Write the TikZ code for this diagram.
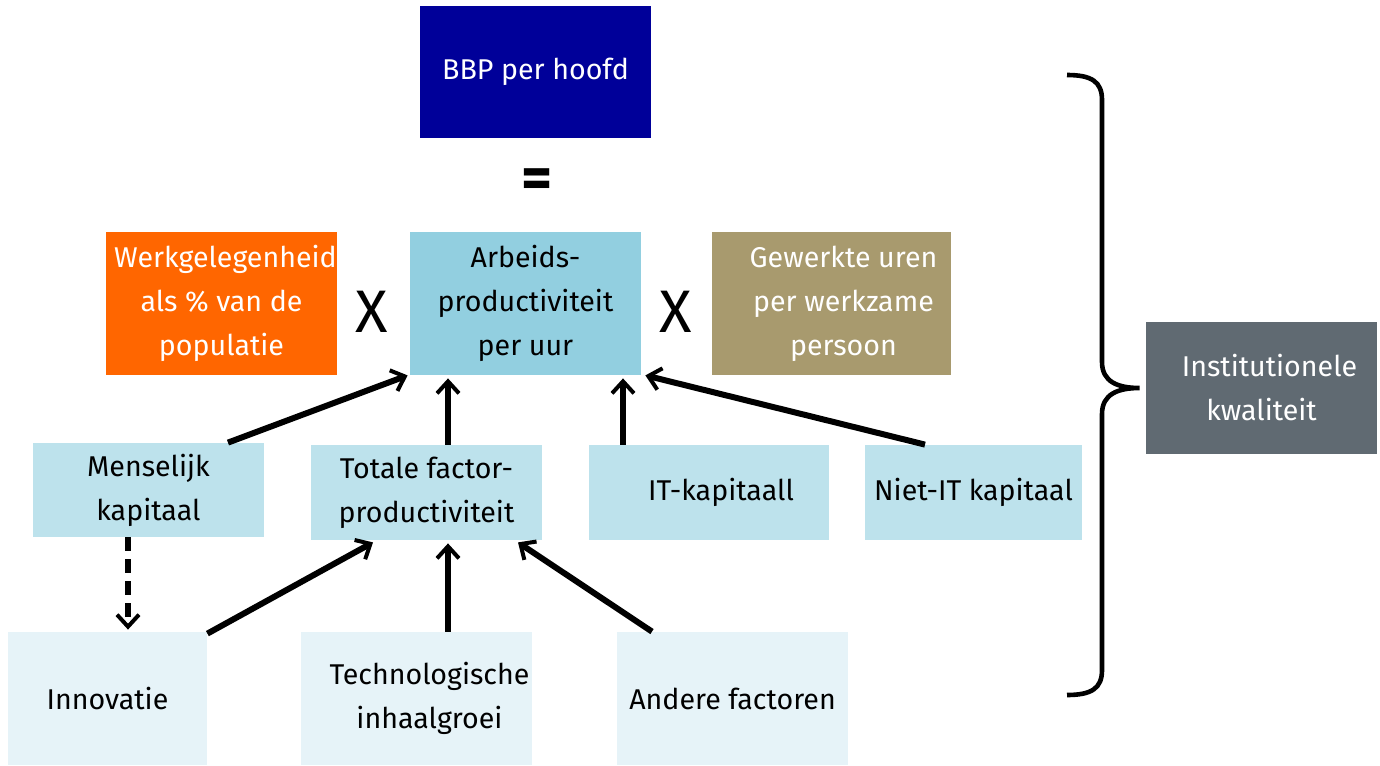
\documentclass[tikz,border=0pt]{standalone}
\usepackage{fontspec}
\setmainfont{Fira Sans}
\usetikzlibrary{arrows.meta,calc}
\definecolor{bbp}{RGB}{0,0,153}
\definecolor{werk}{RGB}{255,102,0}
\definecolor{arb}{RGB}{146,207,224}
\definecolor{gew}{RGB}{168,154,110}
\definecolor{mid}{RGB}{189,226,236}
\definecolor{low}{RGB}{230,243,248}
\definecolor{inst}{RGB}{96,106,114}
\begin{document}
\begin{tikzpicture}[x=0.5pt,y=-0.5pt,
  box/.style={inner sep=0pt,align=center,font=\fontsize{14.3}{22}\selectfont},
  arr/.style={line width=3pt,-{Straight Barb[length=6pt,width=11pt,line width=2pt]}},
  op/.style={font=\fontsize{30}{30}\selectfont}]
\useasboundingbox (0,0) rectangle (1380,765);
\node[box,fill=bbp,text=white,minimum width=115.5pt,minimum height=66pt] (bbp) at (535.5,72) {BBP per hoofd};
\node[op] (eq) at (537,184) {\textbf{=}};
\node[box,fill=werk,text=white,minimum width=115.5pt,minimum height=71.5pt] (werk) at (221.5,303.5) {\hspace{4pt}Werkgelegenheid\\als \% van de\\populatie};
\node[op] (x1) at (372,312) {X};
\node[box,fill=arb,minimum width=115.5pt,minimum height=71.5pt] (ap) at (525.5,303.5) {Arbeids-\\productiviteit\\per uur\hspace{30pt}};
\node[op] (x2) at (676,312) {X};
\node[box,fill=gew,text=white,minimum width=119.5pt,minimum height=71.5pt] (gew) at (831.5,303.5) {\hspace{12pt}Gewerkte uren\\\hspace{12pt}per werkzame\\\hspace{12pt}persoon};
\node[box,fill=mid,minimum width=115.5pt,minimum height=47pt] (mk) at (148.5,490) {Menselijk\\kapitaal};
\node[box,fill=mid,minimum width=115.5pt,minimum height=47.5pt] (tfp) at (426.5,492.5) {Totale factor-\\productiviteit};
\node[box,fill=mid,minimum width=120pt,minimum height=47.5pt] (it) at (709,492.5) {\hspace{12pt}IT-kapitaall};
\node[box,fill=mid,minimum width=108.5pt,minimum height=47.5pt] (niet) at (973.5,492.5) {Niet-IT kapitaal};
\node[box,fill=low,minimum width=99.5pt,minimum height=66.5pt] (inn) at (107.5,698.5) {Innovatie};
\node[box,fill=low,minimum width=115.5pt,minimum height=66.5pt] (tech) at (416.5,698.5) {\hspace{13pt}Technologische\\\hspace{13pt}inhaalgroei};
\node[box,fill=low,minimum width=115.5pt,minimum height=66.5pt] (and) at (732.5,698.5) {Andere factoren};
\node[box,fill=inst,text=white,minimum width=115.5pt,minimum height=66pt] (inst) at (1261.5,388) {\hspace{8pt}Institutionele\\kwaliteit};
% arrows
\draw[arr] ([xshift=39.75pt]mk.north) -- ([xshift=-1pt]ap.south west);
\draw[arr] ([xshift=10.75pt]tfp.north) -- ([xshift=10.75pt,yshift=-1.5pt]tfp.north |- ap.south);
\draw[arr] ([xshift=-43pt]it.north) -- ([xshift=-43pt,yshift=-1.5pt]it.north |- ap.south);
\draw[arr] ([xshift=-24.25pt]niet.north) -- ([xshift=2pt]ap.south east);
\draw[arr,dash pattern=on 7pt off 4pt] ([xshift=-10.25pt]mk.south) -- ([xshift=-10.25pt,yshift=1pt]mk.south |- inn.north);
\draw[arr] ([yshift=-1pt]inn.north east) -- ([xshift=-26.75pt,yshift=-1pt]tfp.south);
\draw[arr] ([xshift=15.75pt]tech.north) -- ([xshift=15.75pt,yshift=-1.5pt]tech.north |- tfp.south);
\draw[arr] ([xshift=-40.25pt]and.north) -- ([xshift=45.75pt,yshift=-1pt]tfp.south);
% brace
\coordinate (tip) at ([xshift=-3pt]inst.west);
\draw[line width=2.3pt] (1067,75) .. controls (1092,75) and (1102,82) .. (1102,100) -- (1102,362)
  .. controls (1102,382) and (1118,388) .. (tip)
  .. controls (1118,388) and (1102,394) .. (1102,414) -- (1102,670)
  .. controls (1102,688) and (1092,695) .. (1067,695);
\end{tikzpicture}
\end{document}
